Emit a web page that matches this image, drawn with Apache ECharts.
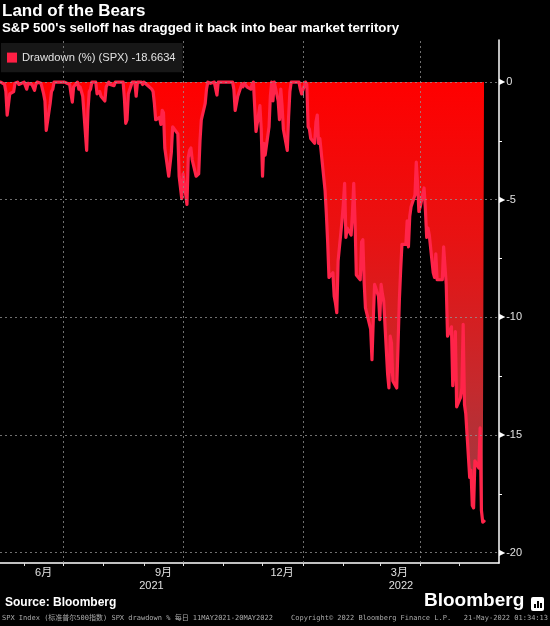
<!DOCTYPE html>
<html><head><meta charset="utf-8">
<script src="https://cdn.jsdelivr.net/npm/echarts@6/dist/echarts.min.js"></script>
<style>html,body{margin:0;padding:0;background:#000;}#c{width:550px;height:626px;}</style>
</head><body><div id="c"></div>
<script>
// ---- data ----
const dates = [
'2021-05-14','2021-05-17','2021-05-18','2021-05-19','2021-05-20','2021-05-21','2021-05-24','2021-05-25','2021-05-26','2021-05-27','2021-05-28',
'2021-06-01','2021-06-02','2021-06-03','2021-06-04','2021-06-07','2021-06-08','2021-06-09','2021-06-10','2021-06-11','2021-06-14','2021-06-15','2021-06-16','2021-06-17','2021-06-18','2021-06-21','2021-06-22','2021-06-23','2021-06-24','2021-06-25','2021-06-28','2021-06-29','2021-06-30',
'2021-07-01','2021-07-02','2021-07-06','2021-07-07','2021-07-08','2021-07-09','2021-07-12','2021-07-13','2021-07-14','2021-07-15','2021-07-16','2021-07-19','2021-07-20','2021-07-21','2021-07-22','2021-07-23','2021-07-26','2021-07-27','2021-07-28','2021-07-29','2021-07-30',
'2021-08-02','2021-08-03','2021-08-04','2021-08-05','2021-08-06','2021-08-09','2021-08-10','2021-08-11','2021-08-12','2021-08-13','2021-08-16','2021-08-17','2021-08-18','2021-08-19','2021-08-20','2021-08-23','2021-08-24','2021-08-25','2021-08-26','2021-08-27','2021-08-30','2021-08-31',
'2021-09-01','2021-09-02','2021-09-03','2021-09-07','2021-09-08','2021-09-09','2021-09-10','2021-09-13','2021-09-14','2021-09-15','2021-09-16','2021-09-17','2021-09-20','2021-09-21','2021-09-22','2021-09-23','2021-09-24','2021-09-27','2021-09-28','2021-09-29','2021-09-30',
'2021-10-01','2021-10-04','2021-10-05','2021-10-06','2021-10-07','2021-10-08','2021-10-11','2021-10-12','2021-10-13','2021-10-14','2021-10-15','2021-10-18','2021-10-19','2021-10-20','2021-10-21','2021-10-22','2021-10-25','2021-10-26','2021-10-27','2021-10-28','2021-10-29',
'2021-11-01','2021-11-02','2021-11-03','2021-11-04','2021-11-05','2021-11-08','2021-11-09','2021-11-10','2021-11-11','2021-11-12','2021-11-15','2021-11-16','2021-11-17','2021-11-18','2021-11-19','2021-11-22','2021-11-23','2021-11-24','2021-11-26','2021-11-29','2021-11-30',
'2021-12-01','2021-12-02','2021-12-03','2021-12-06','2021-12-07','2021-12-08','2021-12-09','2021-12-10','2021-12-13','2021-12-14','2021-12-15','2021-12-16','2021-12-17','2021-12-20','2021-12-21','2021-12-22','2021-12-23','2021-12-27','2021-12-28','2021-12-29','2021-12-30','2021-12-31',
'2022-01-03','2022-01-04','2022-01-05','2022-01-06','2022-01-07','2022-01-10','2022-01-11','2022-01-12','2022-01-13','2022-01-14','2022-01-18','2022-01-19','2022-01-20','2022-01-21','2022-01-24','2022-01-25','2022-01-26','2022-01-27','2022-01-28','2022-01-31',
'2022-02-01','2022-02-02','2022-02-03','2022-02-04','2022-02-07','2022-02-08','2022-02-09','2022-02-10','2022-02-11','2022-02-14','2022-02-15','2022-02-16','2022-02-17','2022-02-18','2022-02-22','2022-02-23','2022-02-24','2022-02-25','2022-02-28',
'2022-03-01','2022-03-02','2022-03-03','2022-03-04','2022-03-07','2022-03-08','2022-03-09','2022-03-10','2022-03-11','2022-03-14','2022-03-15','2022-03-16','2022-03-17','2022-03-18','2022-03-21','2022-03-22','2022-03-23','2022-03-24','2022-03-25','2022-03-28','2022-03-29','2022-03-30','2022-03-31',
'2022-04-01','2022-04-04','2022-04-05','2022-04-06','2022-04-07','2022-04-08','2022-04-11','2022-04-12','2022-04-13','2022-04-14','2022-04-18','2022-04-19','2022-04-20','2022-04-21','2022-04-22','2022-04-25','2022-04-26','2022-04-27','2022-04-28','2022-04-29',
'2022-05-02','2022-05-03','2022-05-04','2022-05-05','2022-05-06','2022-05-09','2022-05-10','2022-05-11','2022-05-12','2022-05-13','2022-05-16','2022-05-17','2022-05-18','2022-05-19','2022-05-20'
];
const drawdown = [
0,-0.1,-0.4,-1.4,-1.4,-0.5,-0.4,-0.05,-0.05,0,-0.1,
0,-0.05,-0.3,-0.05,-0.1,-0.05,-0.35,-0.1,0,-0.05,-0.1,-0.5,-0.8,-2.05,-0.9,-0.4,-0.3,0,0,0,0,0,
0,0,-0.1,-0.5,-0.85,-0.2,0,-0.3,-0.2,-0.4,-0.6,-2.9,-1.2,-0.4,-0.3,0,0,-0.5,-0.5,-0.4,-0.6,
-0.8,-0.2,-0.2,0,-0.1,-0.15,0,0,0,0,0,-0.7,-1.75,-1.6,-0.5,0,0,0,-0.6,0,0,-0.1,
0,0,-0.1,-0.3,-0.4,-0.9,-1.6,-1.5,-1.8,-1.2,-1.3,-2.8,-4.0,-4.0,-3.0,-1.9,-1.9,-2.2,-4.0,-4.0,-4.95,
-3.9,-5.2,-3.2,-2.9,-2.8,-3.3,-4.0,-4.0,-3.9,-2.5,-1.6,-0.9,-0.3,0,0,-0.05,0,0,-0.55,0,0,
0,0,0,0,0,0,-0.3,-1.2,-1.15,-0.6,-0.1,-0.2,-0.05,0,-0.2,-0.3,-0.1,0,-2.1,-1.0,-2.0,
-4.0,-2.6,-3.1,-1.9,-0.6,0,-0.8,0,-0.8,-1.6,-0.3,-1.0,-2.0,-2.9,-1.5,-0.4,0,0,0,0,-0.3,-0.5,
0,-0.1,-1.9,-2.0,-2.4,-2.6,-1.7,-1.4,-2.6,-2.4,-4.6,-5.6,-6.8,-8.3,-8.1,-9.1,-9.4,-9.8,-7.6,-5.9,
-5.2,-4.3,-6.6,-6.2,-6.5,-5.6,-4.3,-5.9,-8.2,-8.4,-6.8,-6.7,-8.5,-9.6,-10.5,-11.8,-10.1,-8.6,-9.1,
-10.1,-8.6,-9.0,-9.3,-12.4,-13.0,-10.8,-11.1,-12.7,-13.0,-11.2,-9.3,-8.0,-6.9,-6.9,-5.9,-7.0,-5.7,-5.3,-4.8,-3.4,-4.3,-5.5,
-5.3,-4.5,-5.4,-6.6,-6.2,-6.5,-8.1,-8.3,-7.3,-8.4,-8.4,-7.0,-7.0,-8.6,-10.8,-10.4,-12.9,-12.9,-10.6,-13.8,
-13.4,-13.0,-10.3,-13.7,-14.1,-16.8,-16.5,-18.0,-18.1,-16.1,-16.4,-14.7,-18.2,-18.7,-18.6634
];
const seriesName = 'Drawdown';
const legendLabel = 'Drawdown (%) (SPX) -18.6634';
const yMajorTicks = [0, -5, -10, -15, -20];
const yMinorTicks = [0, -2.5, -5, -7.5, -10, -12.5, -15, -17.5, -20];
const monthStarts = ['2021-06-01','2021-07-01','2021-08-01','2021-09-01','2021-10-01','2021-11-01','2021-12-01','2022-01-01','2022-02-01','2022-03-01','2022-04-01','2022-05-01'];
const gridMonths = ['2021-07-01','2021-10-01','2022-01-01','2022-04-01'];
const monthLabelDates = ['2021-06-16','2021-09-16','2021-12-16','2022-03-16'];
const monthLabels = ['6月','9月','12月','3月'];
const yearLabels = ['2021','2022'];
const yearBoundary = '2022-01-01';
const axisStart = '2021-05-13 12:00';
const axisEnd = '2022-05-31 12:00';
const titleText = 'Land of the Bears';
const subtitleText = "S&P 500's selloff has dragged it back into bear market territory";
const sourceText = 'Source: Bloomberg';
const footLeft = 'SPX Index (标准普尔500指数) SPX drawdown % 每日 11MAY2021-20MAY2022';
const footMid = 'Copyright© 2022 Bloomberg Finance L.P.';
const footRight = '21-May-2022 01:34:13';

// ---- chart ----
const P = s => +echarts.time.parse(s);
const yearMids = [(P(axisStart) + P(yearBoundary)) / 2, (P(yearBoundary) + P(axisEnd)) / 2];
const chart = echarts.init(document.getElementById('c'), null, {renderer: 'canvas', width: 550, height: 626});
const FONT = '"Liberation Sans", "Noto Sans CJK SC", sans-serif';
const gridStyle = {color: 'rgba(150,150,150,0.75)', type: [2, 3], width: 1};

const option = {
  backgroundColor: '#000',
  animation: false,
  textStyle: {fontFamily: FONT},
  grid: {left: 0, right: 51, top: 40, bottom: 63},
  legend: {
    left: 1, top: 43, padding: [9, 7, 9, 6], backgroundColor: '#171717',
    itemWidth: 10, itemHeight: 10, icon: 'rect', itemGap: 5,
    textStyle: {color: '#e2e2e2', fontSize: 11.2, fontFamily: FONT},
    formatter: () => legendLabel,
    data: [{name: seriesName, itemStyle: {color: '#ff1f44'}}]
  },
  xAxis: [
    {
      type: 'value', min: P(axisStart), max: P(axisEnd), position: 'bottom',
      axisLine: {show: true, onZero: false, lineStyle: {color: '#fff', width: 1.5}},
      axisTick: {show: true, customValues: monthStarts.map(P), length: 3, lineStyle: {color: '#ddd'}},
      axisLabel: {
        show: true, customValues: monthLabelDates.map(P), color: '#e0e0e0', fontSize: 11, margin: 4,
        formatter: v => { const i = monthLabelDates.findIndex(d => Math.abs(P(d) - v) < 1000); return i >= 0 ? monthLabels[i] : ''; }
      },
      splitLine: {show: false}
    },
    {
      type: 'value', min: P(axisStart), max: P(axisEnd), position: 'bottom', offset: 15,
      axisLine: {show: false},
      axisTick: {show: true, customValues: [P(yearBoundary)], length: 14, lineStyle: {color: '#888'}},
      axisLabel: {
        show: true, customValues: yearMids, color: '#e0e0e0', fontSize: 11, margin: 2,
        formatter: v => (v < P(yearBoundary) ? yearLabels[0] : yearLabels[1])
      },
      splitLine: {show: false}
    }
  ],
  yAxis: {
    type: 'value', position: 'right', min: -20.44, max: 1.79,
    axisLine: {show: true, onZero: false, lineStyle: {color: '#fff', width: 1.5}},
    axisTick: {show: true, customValues: yMinorTicks, length: 3, lineStyle: {color: '#fff'}},
    axisLabel: {
      show: true, customValues: yMajorTicks, margin: 0, color: '#e0e0e0', fontSize: 11,
      formatter: v => '{t|▶}' + String(v),
      rich: {t: {fontSize: 8, color: '#fff', padding: [0, 1, 0, 0], fontFamily: 'DejaVu Sans'}}
    },
    splitLine: {show: false}
  },
  series: [{
    name: seriesName, type: 'line', xAxisIndex: 0,
    data: dates.map((d, i) => [P(d), drawdown[i]]),
    showSymbol: false, symbol: 'none',
    lineStyle: {color: '#ff2449', width: 3.2, join: 'round', cap: 'round'},
    itemStyle: {color: '#ff1f44'},
    areaStyle: {
      opacity: 1,
      color: new echarts.graphic.LinearGradient(0, 0, 0, 1, [
        {offset: 0, color: '#ff0000'},
        {offset: 0.35, color: '#e81212'},
        {offset: 0.7, color: '#c42a2e'},
        {offset: 1, color: '#963c46'}
      ])
    },
    markLine: {
      silent: true, symbol: ['none', 'none'], label: {show: false},
      lineStyle: gridStyle, animation: false,
      data: yMajorTicks.map(v => ({yAxis: v})).concat(gridMonths.map(d => ({xAxis: P(d)})))
    }
  }],
  graphic: [
    {type: 'text', left: 2, top: 3, style: {text: titleText, fill: '#fff', font: 'bold 17px ' + FONT}},
    {type: 'text', left: 2, top: 22, style: {text: subtitleText, fill: '#fff', font: 'bold 13.3px ' + FONT}},
    {type: 'text', left: 5, top: 597, style: {text: sourceText, fill: '#fff', font: 'bold 12px ' + FONT}},
    {type: 'text', left: 424, top: 591, style: {text: 'Bloomberg', fill: '#fff', font: 'bold 19px ' + FONT}},
    {type: 'group', left: 531, top: 597, children: [
      {type: 'rect', shape: {x: 0, y: 0, width: 13, height: 14, r: 2}, style: {fill: '#fff'}},
      {type: 'rect', shape: {x: 3, y: 7, width: 2, height: 4}, style: {fill: '#000'}},
      {type: 'rect', shape: {x: 6, y: 4, width: 2, height: 7}, style: {fill: '#000'}},
      {type: 'rect', shape: {x: 9, y: 6, width: 2, height: 5}, style: {fill: '#000'}}
    ]},
    {type: 'text', left: 2, top: 615, style: {text: footLeft, fill: '#aaa', font: '7px "DejaVu Sans Mono", "Noto Sans CJK SC", monospace'}},
    {type: 'text', left: 291, top: 615, style: {text: footMid, fill: '#aaa', font: '7px "DejaVu Sans Mono", monospace'}},
    {type: 'text', right: 2, top: 615, style: {text: footRight, fill: '#aaa', font: '7px "DejaVu Sans Mono", monospace'}}
  ]
};
chart.setOption(option);
</script>
</body></html>
